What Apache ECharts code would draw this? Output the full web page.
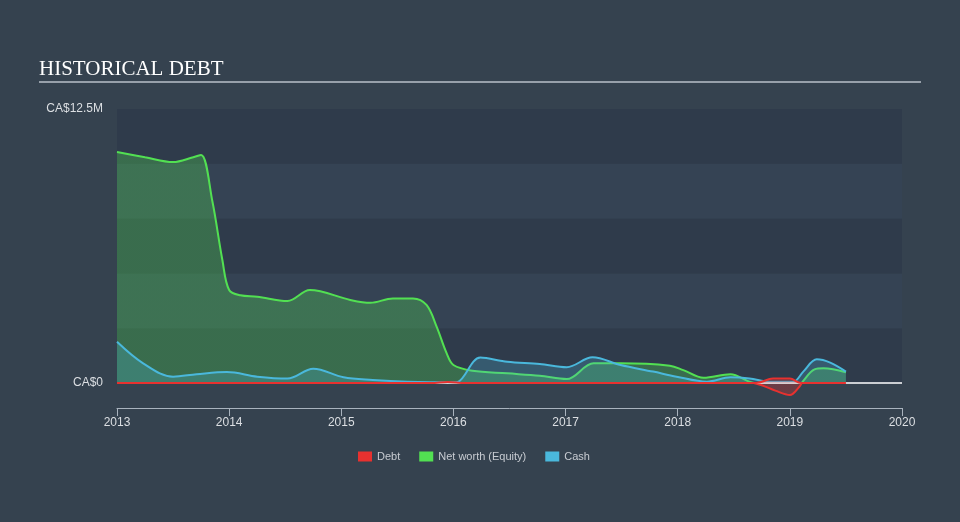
<!DOCTYPE html>
<html><head><meta charset="utf-8">
<script src="https://cdn.jsdelivr.net/npm/echarts@6/dist/echarts.min.js"></script>
<style>html,body{margin:0;padding:0;background:#35424f;}#c{width:960px;height:522px;}</style>
</head><body><div id="c"></div>
<script>
const xTicks = [2013, 2014, 2015, 2016, 2017, 2018, 2019, 2020];
const yTickLabels = {0: 'CA$0', 12.5: 'CA$12.5M'};

const debtX = [2013.0, 2015.8, 2015.95, 2016.1, 2018.7, 2018.85, 2019.0, 2019.1, 2019.5];
const debtY = [0, 0, 0.05, 0, 0, 0.2, 0.2, 0, 0];

const netX = [2013.0, 2013.25, 2013.5, 2013.68, 2013.75, 2013.85, 2013.94, 2014.0, 2014.1, 2014.25, 2014.52, 2014.72, 2015.08, 2015.26, 2015.46, 2015.64, 2015.76, 2015.85, 2015.94, 2016.0, 2016.17, 2016.48, 2016.77, 2017.01, 2017.25, 2017.49, 2017.93, 2018.05, 2018.23, 2018.47, 2018.64, 2018.75, 2018.87, 2019.0, 2019.08, 2019.12, 2019.22, 2019.3, 2019.5];
const netY = [10.54, 10.3, 10.08, 10.3, 10.4, 8.3, 5.6, 4.24, 4.0, 3.94, 3.74, 4.24, 3.79, 3.66, 3.86, 3.86, 3.56, 2.57, 1.35, 0.82, 0.56, 0.44, 0.33, 0.18, 0.90, 0.90, 0.79, 0.59, 0.24, 0.40, 0.06, -0.1, -0.35, -0.55, -0.2, 0.1, 0.62, 0.67, 0.49];

const cashX = [2013.0, 2013.23, 2013.5, 2013.71, 2013.98, 2014.25, 2014.52, 2014.75, 2015.02, 2015.28, 2015.59, 2016.0, 2016.04, 2016.24, 2016.48, 2016.77, 2017.01, 2017.24, 2017.49, 2017.78, 2017.99, 2018.26, 2018.47, 2018.64, 2018.82, 2019.03, 2019.12, 2019.24, 2019.36, 2019.5];
const cashY = [1.88, 0.91, 0.29, 0.40, 0.50, 0.29, 0.20, 0.65, 0.26, 0.14, 0.06, 0.03, 0.05, 1.16, 0.97, 0.87, 0.72, 1.17, 0.82, 0.52, 0.29, 0.06, 0.26, 0.21, 0.06, 0.06, 0.52, 1.08, 0.93, 0.52];

const pair = (xs, ys) => xs.map((x, i) => [x, ys[i]]);
const RED = '#e8312f', GREEN = '#52e052', BLUE = '#4ab8dc';
const H = 522;

const chart = echarts.init(document.getElementById('c'));
chart.setOption({
  backgroundColor: '#35424f',
  animation: false,
  title: {
    text: 'HISTORICAL DEBT', left: 34, top: 54,
    textStyle: {fontFamily: 'Liberation Serif', fontSize: 21, fontWeight: 'normal', color: '#ffffff'}
  },
  graphic: [{
    type: 'line', shape: {x1: 39, y1: 82, x2: 921, y2: 82},
    style: {stroke: '#b9c1c9', lineWidth: 1.5}
  }],
  legend: {
    bottom: 55, left: 353, itemWidth: 14, itemHeight: 10, itemGap: 19,
    icon: 'rect',
    textStyle: {color: '#c8ccd2', fontSize: 11, fontFamily: 'Liberation Sans'},
    data: [
      {name: 'Debt', itemStyle: {color: RED}},
      {name: 'Net worth (Equity)', itemStyle: {color: GREEN}},
      {name: 'Cash', itemStyle: {color: BLUE}}
    ]
  },
  grid: {left: 117, right: 58, top: 109, bottom: 139},
  xAxis: {
    type: 'value', min: xTicks[0], max: xTicks[xTicks.length - 1], interval: 1,
    offset: 25,
    axisLine: {show: true, onZero: false, lineStyle: {color: '#a9b3be', width: 1}},
    axisTick: {show: true, length: 8, lineStyle: {color: '#a9b3be'}},
    axisLabel: {color: '#dcdfe3', fontSize: 12, fontFamily: 'Liberation Sans', margin: 9, formatter: v => String(v)},
    splitLine: {show: false}
  },
  yAxis: {
    type: 'value', min: 0, max: 12.5, interval: 2.5,
    axisLine: {show: false}, axisTick: {show: false},
    axisLabel: {color: '#dcdfe3', fontSize: 12, fontFamily: 'Liberation Sans', margin: 14,
      formatter: v => yTickLabels[v] || ''},
    splitLine: {show: false},
    splitArea: {show: true, areaStyle: {color: ['#2f3b4b', '#354354']}}
  },
  series: [
    {
      name: 'Cash', type: 'line', data: pair(cashX, cashY), smooth: 0.35, showSymbol: false,
      clip: false, z: 3,
      lineStyle: {color: BLUE, width: 2}, itemStyle: {color: BLUE},
      areaStyle: {color: BLUE, opacity: 0.25}
    },
    {
      name: 'Net worth (Equity)', type: 'line', data: pair(netX, netY), smooth: 0.35, showSymbol: false,
      clip: false, z: 2,
      lineStyle: {color: GREEN, width: 2}, itemStyle: {color: GREEN},
      areaStyle: {color: GREEN, opacity: 0.3},
      markLine: {silent: true, symbol: 'none', label: {show: false},
        lineStyle: {color: '#ffffff', width: 1.5, type: 'solid'}, data: [{yAxis: 0}]}
    },
    {
      name: 'Debt', type: 'line', data: pair(debtX, debtY), smooth: 0.35, showSymbol: false,
      clip: false, z: 5,
      lineStyle: {color: RED, width: 2}, itemStyle: {color: RED},
      areaStyle: {color: RED, opacity: 0.25}
    }
  ]
});

// colour the negative part of net worth red, split at the pixel row of value 0
const y0 = chart.convertToPixel({yAxisIndex: 0}, 0) + 0.5;
const f = y0 / H;
const split = () => new echarts.graphic.LinearGradient(0, 0, 0, H, [
  {offset: 0, color: GREEN}, {offset: f, color: GREEN},
  {offset: f, color: RED}, {offset: 1, color: RED}
], true);
chart.setOption({series: [{}, {lineStyle: {color: split()}, areaStyle: {color: split(), opacity: 0.3}}, {}]});
</script></body></html>
